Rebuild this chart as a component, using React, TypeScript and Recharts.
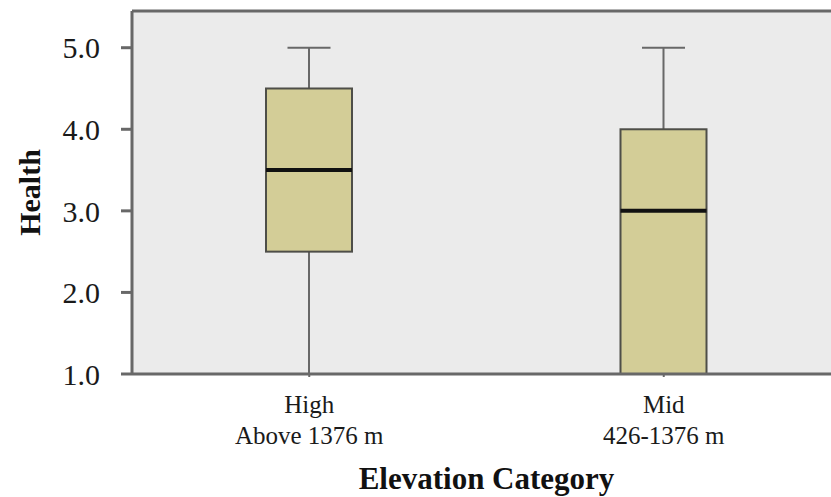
import { ComposedChart, Bar, XAxis, YAxis, CartesianGrid, ReferenceLine } from "recharts"

const categories = ["High", "Mid"]
const rangeLabels = ["Above 1376 m", "426-1376 m"]
const mins = [1.0, 1.0]
const q1s = [2.5, 1.0]
const medians = [3.5, 3.0]
const q3s = [4.5, 4.0]
const maxs = [5.0, 5.0]
const yTicks = [1, 2, 3, 4, 5]
const Y_MIN = 1
const Y_MAX = 5.45

const FONT = '"Liberation Serif", "Times New Roman", serif'
const AXIS = "#686868"

const data = categories.map((c, i) => ({
  name: c,
  sub: rangeLabels[i],
  min: mins[i],
  q1: q1s[i],
  median: medians[i],
  q3: q3s[i],
  max: maxs[i],
  range: [mins[i], maxs[i]],
}))

function BoxShape(props: any) {
  const { x, y, width, height, payload } = props
  const top = Math.min(y, y + height)
  const bottom = Math.max(y, y + height)
  const span = payload.max - payload.min || 1
  const py = (v: number) => top + ((payload.max - v) / span) * (bottom - top)
  const cx = x + width / 2
  const capW = width / 2
  return (
    <g>
      {/* whiskers */}
      <line x1={cx} x2={cx} y1={py(payload.max)} y2={py(payload.q3)} stroke={AXIS} strokeWidth={2} />
      <line x1={cx - capW / 2} x2={cx + capW / 2} y1={py(payload.max)} y2={py(payload.max)} stroke={AXIS} strokeWidth={2} />
      {payload.q1 > payload.min && (
        <line x1={cx} x2={cx} y1={py(payload.q1)} y2={py(payload.min)} stroke={AXIS} strokeWidth={2} />
      )}
      <rect
        x={x}
        y={py(payload.q3)}
        width={width}
        height={py(payload.q1) - py(payload.q3)}
        fill="#d3cd97"
        stroke="#4e4e48"
        strokeWidth={2}
      />
      <line x1={x} x2={x + width} y1={py(payload.median)} y2={py(payload.median)} stroke="#111" strokeWidth={4} />
    </g>
  )
}

function CategoryTick(props: any) {
  const { x, y, payload, index } = props
  return (
    <text x={x} y={y} textAnchor="middle" fontFamily={FONT} fontSize={25} fill="#1a1a1a">
      <tspan x={x} dy={34}>{payload.value}</tspan>
      <tspan x={x} dy={31}>{rangeLabels[index]}</tspan>
    </text>
  )
}

export default function App() {
  return (
    <div style={{ position: "absolute", left: 0, top: 0, width: 831, height: 497, overflow: "hidden", background: "#fff" }}>
      <ComposedChart width={850} height={497} data={data} margin={{ top: 11, right: 9, left: 0, bottom: 0 }}>
        <CartesianGrid horizontal={false} vertical={false} fill="#ebebeb" />
        <XAxis
          dataKey="name"
          height={123}
          tickSize={3}
          tick={<CategoryTick />}
          tickLine={{ stroke: AXIS, strokeWidth: 2 }}
          axisLine={{ stroke: AXIS, strokeWidth: 3 }}
          label={{
            content: ({ viewBox }: any) => (
              <text
                x={viewBox.x + viewBox.width / 2}
                y={viewBox.y + 115}
                textAnchor="middle"
                fontFamily={FONT}
                fontSize={31}
                fontWeight="bold"
                fill="#111"
              >
                Elevation Category
              </text>
            ),
          }}
        />
        <YAxis
          width={132}
          domain={[Y_MIN, Y_MAX]}
          ticks={yTicks}
          allowDataOverflow
          tickFormatter={(v: number) => v.toFixed(1)}
          tickSize={11}
          tickMargin={21}
          tick={{ fontFamily: FONT, fontSize: 30, fill: "#1a1a1a" }}
          tickLine={{ stroke: AXIS, strokeWidth: 3 }}
          axisLine={{ stroke: AXIS, strokeWidth: 3 }}
          label={{
            content: ({ viewBox }: any) => (
              <text
                x={29}
                y={viewBox.y + viewBox.height / 2}
                transform={`rotate(-90, 29, ${viewBox.y + viewBox.height / 2})`}
                textAnchor="middle"
                dominantBaseline="central"
                fontFamily={FONT}
                fontSize={30}
                fontWeight="bold"
                fill="#111"
              >
                Health
              </text>
            ),
          }}
        />
        <ReferenceLine y={Y_MAX} stroke={AXIS} strokeWidth={3} />
        <Bar dataKey="range" barSize={86} shape={<BoxShape />} isAnimationActive={false} />
      </ComposedChart>
    </div>
  )
}
